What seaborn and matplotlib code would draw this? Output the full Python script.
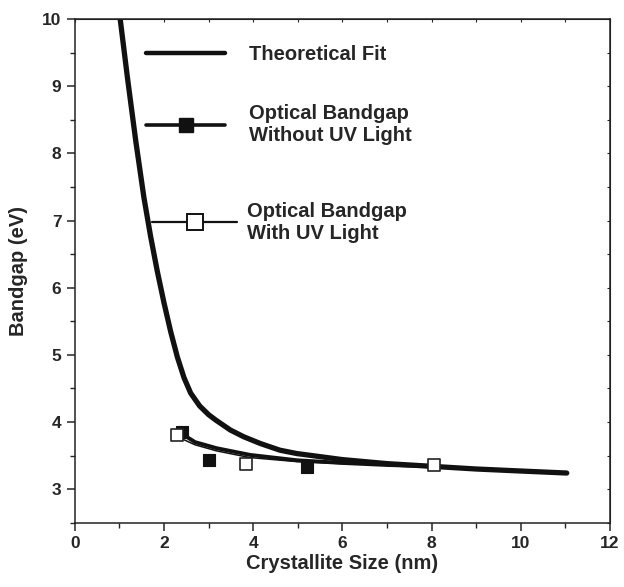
import numpy as np
import pandas as pd
import matplotlib
matplotlib.use("Agg")
import matplotlib.pyplot as plt
import seaborn as sns
from matplotlib.lines import Line2D
from matplotlib.ticker import MultipleLocator

# theoretical fit curve
fit_x = [1.02, 1.18, 1.37, 1.55, 1.70, 1.85, 2.00, 2.15, 2.30, 2.45, 2.60, 2.80, 3.00, 3.16,
         3.49, 3.79, 4.16, 4.60, 4.98, 6.0, 7.0, 8.0, 9.0, 10.0, 11.03]
fit_y = [10.0, 9.14, 8.18, 7.35, 6.77, 6.25, 5.78, 5.35, 4.97, 4.66, 4.43, 4.24, 4.11, 4.03,
         3.88, 3.78, 3.68, 3.58, 3.53, 3.44, 3.38, 3.34, 3.30, 3.27, 3.24]

# fitted lines through the measured points
no_uv_line_x = [2.41, 2.7, 3.18, 3.93, 4.98, 6.0, 7.0, 8.0]
no_uv_line_y = [3.82, 3.70, 3.61, 3.51, 3.43, 3.39, 3.36, 3.34]
uv_line_x = [2.3, 2.7, 3.18, 3.93, 4.98, 6.0, 7.0, 8.06]
uv_line_y = [3.78, 3.66, 3.57, 3.47, 3.41, 3.38, 3.36, 3.35]

# measured optical bandgap
no_uv_x = [2.41, 3.02, 5.21]
no_uv_y = [3.85, 3.43, 3.33]
uv_x = [2.30, 3.84, 8.06]
uv_y = [3.80, 3.37, 3.36]

labels = ["Theoretical Fit",
          "Optical Bandgap\nWithout UV Light",
          "Optical Bandgap\nWith UV Light"]

sns.set_style("ticks")
plt.rcParams["font.family"] = ["Liberation Sans", "DejaVu Sans"]
plt.rcParams["font.weight"] = "bold"

fig = plt.figure(figsize=(6.24, 5.87), dpi=100)
ax = fig.add_axes([0.1197, 0.1095, 0.8579, 0.858])

sns.lineplot(x=fit_x, y=fit_y, ax=ax, color="#111111", linewidth=3.8, sort=False,
             solid_capstyle="round", solid_joinstyle="round")
sns.lineplot(x=no_uv_line_x, y=no_uv_line_y, ax=ax, color="#111111", linewidth=2.8, sort=False)
sns.lineplot(x=uv_line_x, y=uv_line_y, ax=ax, color="#111111", linewidth=1.1, sort=False)
sns.scatterplot(x=no_uv_x, y=no_uv_y, ax=ax, marker="s", s=85, color="#111111",
                edgecolor="#111111", linewidth=0.8, zorder=4)
sns.scatterplot(x=uv_x, y=uv_y, ax=ax, marker="s", s=85, color="white",
                edgecolor="#222222", linewidth=1.2, zorder=5)

ax.set_xlim(0, 12)
ax.set_ylim(2.5, 10)
ax.xaxis.set_major_locator(MultipleLocator(2))
ax.xaxis.set_minor_locator(MultipleLocator(1))
ax.yaxis.set_major_locator(MultipleLocator(1))
ax.yaxis.set_minor_locator(MultipleLocator(0.5))
ax.set_yticks([3, 4, 5, 6, 7, 8, 9, 10])
ax.tick_params(which="major", direction="out", length=6, width=1.1, labelsize=12.5)
ax.tick_params(which="minor", direction="out", length=3.5, width=1.0)
for s in ax.spines.values():
    s.set_linewidth(1.1)
    s.set_color("#222222")

# small inward ticks on top and right
top = ax.secondary_xaxis("top")
top.xaxis.set_major_locator(MultipleLocator(1))
top.tick_params(direction="in", length=2, labeltop=False)
right = ax.secondary_yaxis("right")
right.yaxis.set_major_locator(MultipleLocator(0.5))
right.tick_params(direction="in", length=2, labelright=False)

ax.set_xlabel("Crystallite Size (nm)", fontsize=14.5, fontweight="bold", labelpad=2)
ax.set_ylabel("Bandgap (eV)", fontsize=14.5, fontweight="bold", labelpad=10)

h_fit = Line2D([], [], color="#111111", linewidth=3.2)
h_no_uv = Line2D([], [], color="#111111", linewidth=2.6, marker="s", markersize=10,
                 markerfacecolor="#111111")
h_uv = Line2D([], [], color="#111111", linewidth=1.6, marker="s", markersize=11,
              markerfacecolor="white", markeredgewidth=1.4)

leg1 = ax.legend([h_fit, h_no_uv], labels[:2], loc="upper left", bbox_to_anchor=(0.1, 0.985),
                 frameon=False, handlelength=3.9, handletextpad=1.2,
                 labelspacing=2.0, prop={"weight": "bold", "size": 14.5})
ax.add_artist(leg1)
ax.legend([h_uv], labels[2:], loc="center left", bbox_to_anchor=(0.111, 0.597),
          frameon=False, handlelength=4.2, handletextpad=0.5,
          prop={"weight": "bold", "size": 14.5})

fig.savefig("out.png", dpi=100)
